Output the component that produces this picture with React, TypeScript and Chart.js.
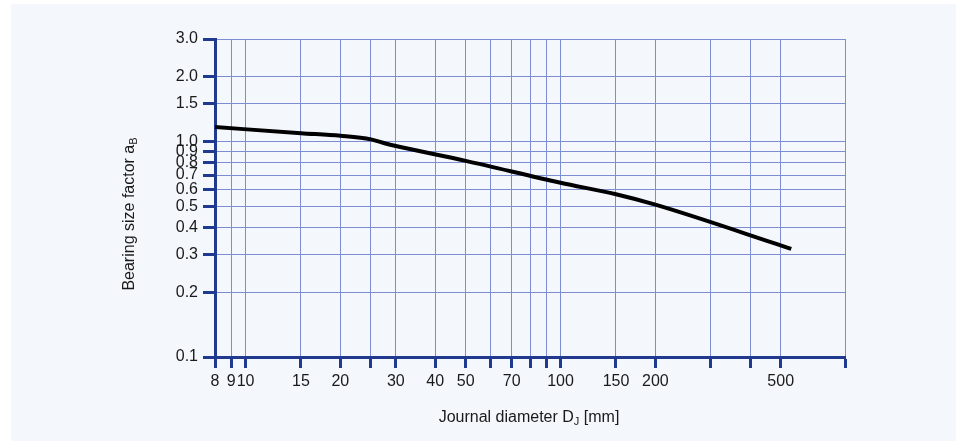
import React, { useEffect, useRef } from "react";
import { Chart, registerables } from "chart.js";

Chart.register(...registerables);

const diameters = [8, 15, 20, 25, 28, 30, 50, 100, 150, 200, 540];
const sizeFactor = [1.17, 1.095, 1.065, 1.025, 0.978, 0.955, 0.815, 0.645, 0.57, 0.51, 0.318];

const xGridValues = [8, 9, 10, 15, 20, 25, 30, 40, 50, 60, 70, 80, 90, 100, 150, 200, 300, 400, 500, 800];
const xLabelValues = [8, 9, 10, 15, 20, 30, 40, 50, 70, 100, 150, 200, 500];
const yTickValues = [0.1, 0.2, 0.3, 0.4, 0.5, 0.6, 0.7, 0.8, 0.9, 1.0, 1.5, 2.0, 3.0];

const xTitle = "Journal diameter D";
const xTitleSub = "J";
const xTitleTail = " [mm]";
const yTitle = "Bearing size factor a";
const yTitleSub = "B";

const AXIS = "#1f3a8f";
const GRID = "#7d8dd1";
const TEXT = "#1a1a1a";
const FONT = "'Liberation Sans', Arial, sans-serif";

const titlesPlugin = {
  id: "titles",
  afterDraw(chart: any) {
    const ctx = chart.ctx;
    const ca = chart.chartArea;
    ctx.save();
    ctx.fillStyle = TEXT;
    ctx.textBaseline = "alphabetic";
    // x title
    ctx.font = `16px ${FONT}`;
    const w1 = ctx.measureText(xTitle).width;
    const w3 = ctx.measureText(xTitleTail).width;
    ctx.font = `11px ${FONT}`;
    const w2 = ctx.measureText(xTitleSub).width;
    const total = w1 + w2 + w3;
    let x = (ca.left + ca.right) / 2 - total / 2 - 1;
    const yb = 418;
    ctx.font = `16px ${FONT}`;
    ctx.fillText(xTitle, x, yb);
    x += w1;
    ctx.font = `11px ${FONT}`;
    ctx.fillText(xTitleSub, x, yb + 3);
    x += w2;
    ctx.font = `16px ${FONT}`;
    ctx.fillText(xTitleTail, x, yb);

    // y title (rotated)
    ctx.translate(123, 210);
    ctx.rotate(-Math.PI / 2);
    ctx.font = `16px ${FONT}`;
    const yw1 = ctx.measureText(yTitle).width;
    ctx.font = `11px ${FONT}`;
    const yw2 = ctx.measureText(yTitleSub).width;
    let yx = -(yw1 + yw2) / 2;
    ctx.font = `16px ${FONT}`;
    ctx.fillText(yTitle, yx, 0);
    yx += yw1;
    ctx.font = `11px ${FONT}`;
    ctx.fillText(yTitleSub, yx, 3);
    ctx.restore();
  },
};

export default function App() {
  const ref = useRef<HTMLCanvasElement | null>(null);

  useEffect(() => {
    document.body.style.margin = "0";
    const canvas = ref.current;
    if (!canvas) return;
    const chart = new Chart(canvas, {
      type: "line",
      data: {
        datasets: [
          {
            data: diameters.map((d, i) => ({ x: d, y: sizeFactor[i] })),
            borderColor: "#000000",
            borderWidth: 4,
            pointRadius: 0,
            cubicInterpolationMode: "monotone",
            fill: false,
          },
        ],
      },
      options: {
        animation: false,
        responsive: false,
        events: [],
        layout: { padding: { left: 144, right: 111, top: 35, bottom: 44 } },
        plugins: { legend: { display: false }, tooltip: { enabled: false } },
        scales: {
          x: {
            type: "logarithmic",
            min: 8,
            max: 800,
            afterBuildTicks: (scale: any) => {
              scale.ticks = xGridValues.map((v) => ({ value: v }));
            },
            afterFit: (scale: any) => {
              scale.height = 40;
            },
            border: { color: AXIS, width: 3 },
            grid: {
              color: GRID,
              lineWidth: 1,
              tickColor: AXIS,
              tickWidth: 3,
              tickLength: 11,
            },
            ticks: {
              autoSkip: false,
              maxRotation: 0,
              padding: 4,
              color: TEXT,
              font: { family: FONT, size: 16 },
              callback: (v: any) => (xLabelValues.includes(Number(v)) ? String(v) : ""),
            },
          },
          y: {
            type: "logarithmic",
            min: 0.1,
            max: 3.0,
            afterBuildTicks: (scale: any) => {
              scale.ticks = yTickValues.map((v) => ({ value: v }));
            },
            afterFit: (scale: any) => {
              scale.width = 60;
            },
            border: { color: AXIS, width: 3 },
            grid: {
              color: GRID,
              lineWidth: 1,
              tickColor: AXIS,
              tickWidth: 3,
              tickLength: 12,
            },
            ticks: {
              autoSkip: false,
              padding: 5,
              color: TEXT,
              font: { family: FONT, size: 16 },
              callback: (v: any) => Number(v).toFixed(1),
            },
          },
        },
      } as any,
      plugins: [titlesPlugin],
    });
    return () => chart.destroy();
  }, []);

  return (
    <div style={{ position: "relative", width: 956, height: 441, background: "#ffffff", overflow: "hidden" }}>
      <div style={{ position: "absolute", left: 11, top: 4, width: 945, height: 437, background: "#f4f7fc" }}>
        <canvas ref={ref} width={945} height={437} style={{ display: "block", width: 945, height: 437 }} />
      </div>
    </div>
  );
}
